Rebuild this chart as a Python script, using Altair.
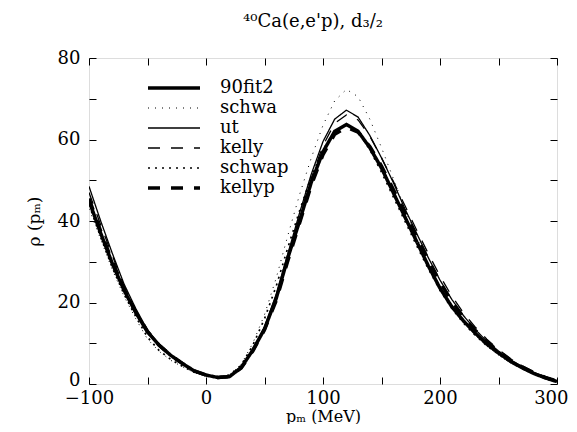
import altair as alt
import pandas as pd

p = list(range(-100, 301, 10))

fit2 = [45, 37, 29.5, 23, 17.5, 12.8, 9.5, 7, 5, 3.2, 2.2, 1.6, 1.8, 4, 8.3, 13.5, 21, 31, 40, 49.5, 57,
        62, 63.7, 62, 58, 53, 47, 41, 35, 29, 23.5, 19, 15.5, 12.5, 9.8, 7.6, 5.6, 4, 2.6, 1.5, 0.6]
schwa = [43, 35.5, 28, 21.5, 16, 11, 8, 5.8, 4.2, 2.8, 2, 1.7, 2.2, 4.8, 10, 17, 26, 36.5, 46.5, 55.5, 63.5,
         69.5, 72.3, 70.5, 65, 58, 50.5, 43, 36, 29.5, 23.8, 19, 15.2, 12, 9.3, 7.1, 5.2, 3.7, 2.4, 1.4, 0.6]
ut = [48.5, 40, 32, 24.5, 18.5, 13.2, 9.7, 7, 5, 3.2, 2.2, 1.6, 1.9, 4, 8.4, 14, 22, 32, 42, 51.5, 59.5,
      65, 67.2, 65.5, 61, 55.5, 49.5, 43, 37, 31, 25.5, 20.8, 16.8, 13.4, 10.5, 8.1, 6, 4.3, 2.9, 1.7, 0.8]
kelly = [47, 39, 31.5, 24, 18, 13, 9.5, 7, 5, 3.2, 2.2, 1.6, 1.9, 4, 8.3, 13.8, 21.5, 31.5, 41, 50.5, 58.5,
         64, 66, 64.8, 60.8, 55.5, 49.8, 43.8, 37.8, 32, 26.5, 21.6, 17.5, 14, 11, 8.5, 6.3, 4.5, 3, 1.8, 0.8]
schwap = [44, 36, 28.5, 22, 16.5, 11.5, 8.2, 6, 4.3, 2.9, 2, 1.7, 2.2, 4.6, 9.5, 16, 24, 33.5, 42.5, 51, 57.5,
          62, 63.8, 62, 57.5, 52, 46, 40, 34, 28.3, 23, 18.6, 15, 12, 9.4, 7.3, 5.4, 3.9, 2.5, 1.5, 0.6]
kellyp = [45.5, 37.5, 30, 23.3, 17.7, 12.9, 9.5, 7, 5, 3.2, 2.2, 1.6, 1.8, 3.9, 8.1, 13.3, 20.5, 30.3, 39.5, 48.8, 56.3,
          61.3, 63, 61.8, 58.3, 53.5, 47.8, 42, 36.2, 30.5, 25, 20.3, 16.4, 13.2, 10.4, 8, 5.9, 4.2, 2.8, 1.6, 0.7]

series_names = ["90fit2", "schwa", "ut", "kelly", "schwap", "kellyp"]
series_vals = [fit2, schwa, ut, kelly, schwap, kellyp]

# line styles
dashes = [[1, 0], [1, 6], [1, 0], [12, 11], [2, 5], [12, 11]]
widths = [3.5, 1.0, 1.3, 1.3, 1.7, 3.5]

FONT = "DejaVu Serif"
xticks = list(range(-100, 301, 50))
yticks = list(range(0, 81, 10))
label_x = "datum.value % 100 == 0 ? datum.label : ''"
label_y = "datum.value % 20 == 0 ? datum.label : ''"

xscale = alt.Scale(domain=[-100, 300], nice=False)
yscale = alt.Scale(domain=[0, 80], nice=False)

x_main = alt.X("p:Q", scale=xscale,
               axis=alt.Axis(orient="bottom", values=xticks, labelExpr=label_x, offset=-7, tickSize=7,
                             domain=False, grid=False, labelPadding=5, labelFlush=False,
                             labelAlign={"condition": {"test": "datum.value == 300", "value": "right"},
                                         "value": "center"},
                             labelOffset={"condition": {"test": "datum.value == 300", "value": 11},
                                          "value": 0},
                             labelFont=FONT, labelFontSize=18, labelColor="black", tickColor="black",
                             title="pₘ (MeV)", titleFont=FONT, titleFontSize=16,
                             titleFontWeight="normal", titleColor="black",
                             titleBaseline="alphabetic", titleY=44))
y_main = alt.Y("rho:Q", scale=yscale,
               axis=alt.Axis(orient="left", values=yticks, labelExpr=label_y, offset=-7, tickSize=7,
                             domain=False, grid=False, labelPadding=9, labelFlush=False,
                             labelOffset={"condition": {"test": "datum.value == 0", "value": -4},
                                          "value": 0},
                             labelFont=FONT, labelFontSize=18, labelColor="black", tickColor="black",
                             title="ρ (pₘ)", titleFont=FONT, titleFontSize=17,
                             titleFontWeight="normal", titleColor="black", titlePadding=14))
x_plain = alt.X("p:Q", scale=xscale, axis=None)
y_plain = alt.Y("rho:Q", scale=yscale, axis=None)

layers = []
for i, (name, vals) in enumerate(zip(series_names, series_vals)):
    d = pd.DataFrame({"p": p, "rho": vals})
    enc_x = x_main if i == 0 else x_plain
    enc_y = y_main if i == 0 else y_plain
    layers.append(
        alt.Chart(d).mark_line(color="black", clip=True, strokeDash=dashes[i],
                               strokeWidth=widths[i]).encode(x=enc_x, y=enc_y)
    )

# top/right inward ticks
frame_axes = alt.Chart(pd.DataFrame({"p": p, "rho": fit2})).mark_line(opacity=0).encode(
    x=alt.X("p:Q", scale=xscale,
            axis=alt.Axis(orient="top", values=xticks, labels=False, offset=-7, tickSize=7,
                          domain=False, grid=False, tickColor="black", title=None)),
    y=alt.Y("rho:Q", scale=yscale,
            axis=alt.Axis(orient="right", values=yticks, labels=False, offset=-7, tickSize=7,
                          domain=False, grid=False, tickColor="black", title=None)),
)

# legend (drawn by hand)
for i, name in enumerate(series_names):
    yy = 30 + 20 * i
    layers.append(
        alt.Chart(pd.DataFrame({"series": [name]})).mark_rule(
            color="black", strokeDash=dashes[i], strokeWidth=widths[i]
        ).encode(x=alt.value(59), x2=alt.value(111), y=alt.value(yy))
    )
    layers.append(
        alt.Chart(pd.DataFrame({"series": [name]})).mark_text(
            font=FONT, fontSize=18, align="left", baseline="middle", color="black"
        ).encode(x=alt.value(131), y=alt.value(yy), text="series:N")
    )

chart = alt.layer(*layers, frame_axes).resolve_axis(x="independent", y="independent").properties(
    width=468, height=326,
    title=alt.TitleParams("⁴⁰Ca(e,e'p), d₃/₂", font=FONT, fontSize=18, fontWeight="normal",
                          color="black", dx=-10, offset=18),
    padding={"left": 81, "top": 50, "right": 12, "bottom": 40},
    autosize=alt.AutoSizeParams(type="none"),
).configure_view(stroke="black", strokeWidth=1.5).configure(background="white")

chart.save("out.html", embed_options={"renderer": "svg", "actions": False})
